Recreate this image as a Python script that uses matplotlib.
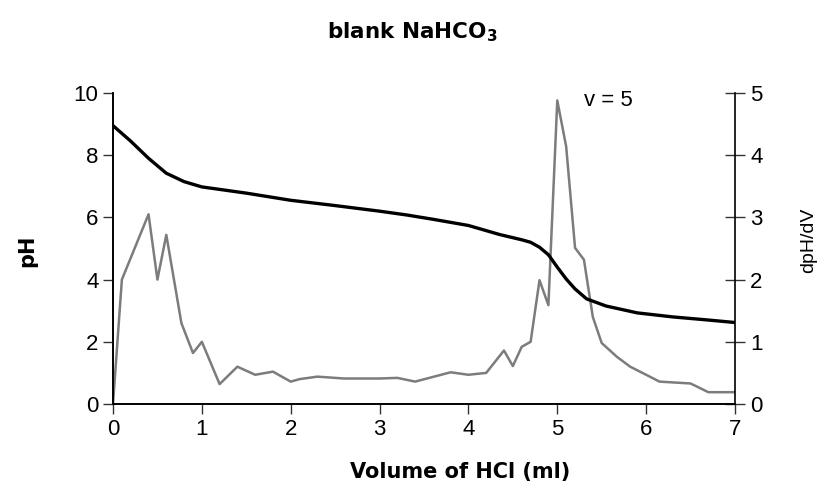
import matplotlib
matplotlib.use("Agg")
from matplotlib import pyplot as plt

## STYLE ##
plt.rcParams['font.family'] = ['Liberation Sans', 'DejaVu Sans']
plt.rcParams['axes.linewidth'] = 1.2

### DATA ##
# pH titration curve
ph_volume = [0.0, 0.2, 0.4, 0.6, 0.8, 1.0, 1.5, 2.0, 2.5, 3.0, 3.3, 3.6, 4.0,
             4.35, 4.6, 4.7, 4.8, 4.9, 5.0, 5.1, 5.2, 5.33, 5.55, 5.9, 6.3,
             6.7, 7.0]
ph_values = [8.95, 8.45, 7.9, 7.42, 7.15, 6.98, 6.78, 6.55, 6.38, 6.2, 6.08,
             5.94, 5.74, 5.45, 5.28, 5.2, 5.04, 4.8, 4.4, 4.02, 3.7, 3.38,
             3.15, 2.93, 2.8, 2.7, 2.62]

# first derivative dpH/dV
dv_volume = [0.0, 0.1, 0.2, 0.3, 0.4, 0.5, 0.6, 0.77, 0.9, 1.0, 1.2, 1.4,
             1.6, 1.8, 2.0, 2.1, 2.3, 2.6, 3.0, 3.2, 3.4, 3.8, 4.0, 4.2,
             4.4, 4.5, 4.6, 4.7, 4.8, 4.9, 5.0, 5.1, 5.2, 5.3, 5.4, 5.5,
             5.67, 5.82, 6.0, 6.15, 6.5, 6.7, 7.0]
dv_values = [0.0, 2.0, 2.35, 2.7, 3.05, 2.0, 2.72, 1.3, 0.82, 1.0, 0.32, 0.6,
             0.47, 0.52, 0.36, 0.4, 0.44, 0.41, 0.41, 0.42, 0.36, 0.51, 0.47,
             0.5, 0.86, 0.61, 0.92, 1.0, 1.99, 1.59, 4.88, 4.14, 2.51, 2.32,
             1.4, 0.98, 0.76, 0.6, 0.47, 0.36, 0.33, 0.19, 0.19]

x_ticks = [0, 1, 2, 3, 4, 5, 6, 7]
ph_ticks = [0, 2, 4, 6, 8, 10]
dv_ticks = [0, 1, 2, 3, 4, 5]


def main():
    fig = plt.figure(figsize=(8.29, 5.01), dpi=100)
    ax = fig.add_axes([0.1363, 0.1936, 0.7503, 0.6208])
    ax2 = ax.twinx()

    ax2.plot(dv_volume, dv_values, color='#7c7c7c', lw=1.8)
    ax.plot(ph_volume, ph_values, color='black', lw=2.4)
    ax.set_zorder(ax2.get_zorder() + 1)
    ax.patch.set_visible(False)

    ax.set_xlim(0, 7)
    ax.set_ylim(0, 10)
    ax2.set_ylim(0, 5)
    ax.set_xticks(x_ticks)
    ax.set_yticks(ph_ticks)
    ax2.set_yticks(dv_ticks)

    for a in (ax, ax2):
        a.spines['top'].set_visible(False)
    ax.spines['right'].set_visible(False)

    ax.tick_params(axis='both', labelsize=16, direction='out', length=7,
                   width=1.0, colors='#333333', labelcolor='black')
    ax2.tick_params(axis='y', labelsize=16, direction='inout', length=14,
                    width=1.0, colors='#333333', labelcolor='black', pad=4)

    ax.set_xlabel('Volume of HCl (ml)', fontsize=15, fontweight='bold',
                  family='DejaVu Sans')
    ax.xaxis.set_label_coords(0.558, -0.186)
    ax.set_ylabel('pH', fontsize=15, fontweight='bold', family='DejaVu Sans')
    ax.yaxis.set_label_coords(-0.122, 0.492)
    ax2.set_ylabel('dpH/dV', fontsize=14)
    ax2.yaxis.set_label_coords(1.104, 0.527)

    ax.text(5.3, 9.75, 'v = 5', fontsize=16, ha='left', va='center')
    fig.text(0.497, 0.936, r'blank NaHCO$_\mathbf{3}$', fontsize=15.5,
             fontweight='bold', family='DejaVu Sans', ha='center', va='center')

    plt.savefig('out.png', dpi=100)


if __name__ == "__main__":
    main()
